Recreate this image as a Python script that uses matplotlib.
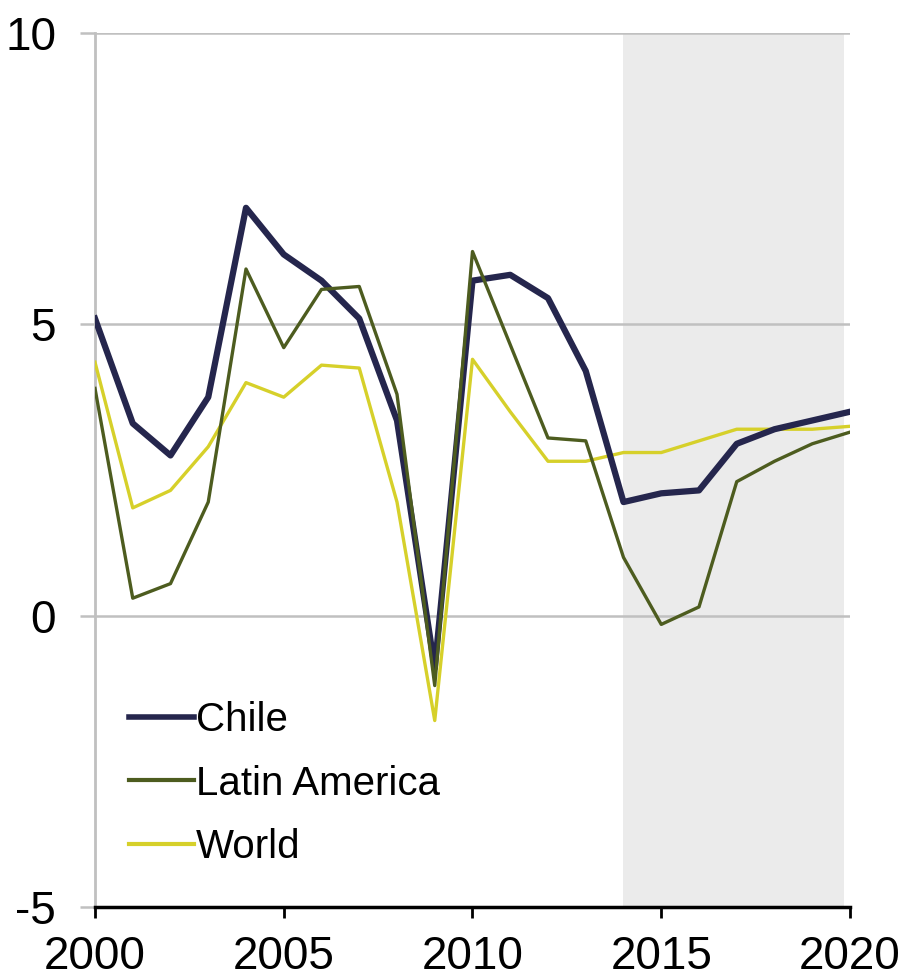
import matplotlib
matplotlib.use("Agg")
import matplotlib.pyplot as plt
from matplotlib.lines import Line2D

years = list(range(2000, 2021))
chile = [5.1, 3.3, 2.75, 3.75, 7.0, 6.2, 5.75, 5.1, 3.35, -0.9, 5.75,
         5.85, 5.45, 4.2, 1.95, 2.1, 2.15, 2.95, 3.2, 3.35, 3.5]
latam = [3.9, 0.3, 0.55, 1.95, 5.95, 4.6, 5.6, 5.65, 3.8, -1.2, 6.25,
         4.65, 3.05, 3.0, 1.0, -0.15, 0.15, 2.3, 2.65, 2.95, 3.15]
world = [4.35, 1.85, 2.15, 2.9, 4.0, 3.75, 4.3, 4.25, 1.95, -1.8, 4.4,
         3.5, 2.65, 2.65, 2.8, 2.8, 3.0, 3.2, 3.2, 3.2, 3.25]
labels = ["Chile", "Latin America", "World"]
forecast_span = (2014, 2020)
xticks = [2000, 2005, 2010, 2015, 2020]
yticks = [-5, 0, 5, 10]

c_chile = "#25264d"
c_latam = "#4d5c1f"
c_world = "#d6d02a"
grid_c = "#c0c0c0"

plt.rcParams['font.family'] = ['Liberation Sans', 'DejaVu Sans']

fig = plt.figure(figsize=(9.03, 9.8), dpi=100)
ax = fig.add_axes([0.1052, 0.0745, 0.9413 - 0.1052, 0.9663 - 0.0745])

ax.axvspan(forecast_span[0], forecast_span[1] - 0.15, color="#ebebeb", zorder=0, lw=0)

for yv in [0, 5, 10]:
    ax.axhline(yv, color=grid_c, lw=1.8, zorder=1)

ax.plot(years, world, color=c_world, lw=2.4, zorder=3)
ax.plot(years, chile, color=c_chile, lw=4.5, zorder=4)
ax.plot(years, latam, color=c_latam, lw=2.4, zorder=5)

ax.set_xlim(2000, 2020)
ax.set_ylim(-5, 10)
ax.set_xticks(xticks)
ax.set_yticks(yticks)
ax.set_xticklabels([str(x) for x in xticks], fontsize=33)
ax.set_yticklabels([str(y) for y in yticks], fontsize=33)

for s in ["top", "right"]:
    ax.spines[s].set_visible(False)
ax.spines["left"].set_color(grid_c)
ax.spines["left"].set_linewidth(2.0)
ax.spines["bottom"].set_color("black")
ax.spines["bottom"].set_linewidth(2.5)
ax.spines["bottom"].set_zorder(6)

ax.tick_params(axis="x", direction="out", length=8, width=2, color="black", pad=12)
ax.tick_params(axis="y", direction="out", length=11, width=1.8, color=grid_c, pad=17)

handles = [Line2D([0], [0], color=c_chile, lw=4.0),
           Line2D([0], [0], color=c_latam, lw=3.0),
           Line2D([0], [0], color=c_world, lw=3.0)]
fig.legend(handles, labels, loc="center left", bbox_to_anchor=(0.143, 0.2005),
           frameon=False, fontsize=29, handlelength=1.6, handletextpad=0.05,
           labelspacing=0.63, borderpad=0, borderaxespad=0)

fig.savefig("out.png", dpi=100)
